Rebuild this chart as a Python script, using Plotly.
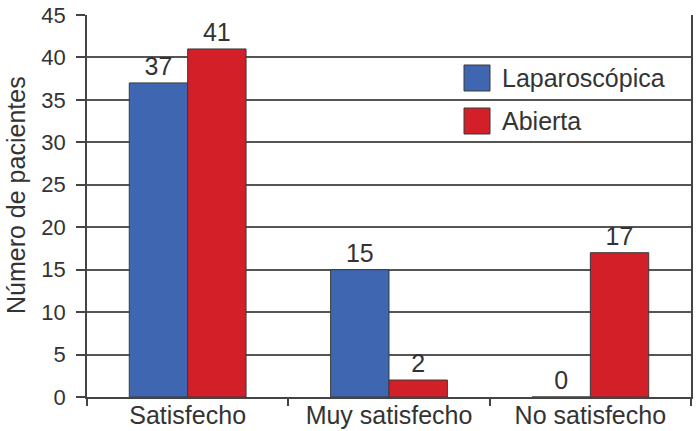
import plotly.graph_objects as go

categories = ["Satisfecho", "Muy satisfecho", "No satisfecho"]
series_names = ["Laparoscópica", "Abierta"]
lap_values = [37, 15, 0]
abi_values = [41, 2, 17]
y_ticks = [0, 5, 10, 15, 20, 25, 30, 35, 40, 45]
y_title = "Número de pacientes"

colors = ["#3f67b1", "#d21f28"]
font_family = "Liberation Sans, Arial, sans-serif"
text_color = "#333333"
line_color = "#444444"

fig = go.Figure()
for name, vals, col in zip(series_names, [lap_values, abi_values], colors):
    fig.add_trace(go.Bar(
        x=categories, y=vals, name=name,
        marker=dict(color=col, line=dict(color="#3a3a3a", width=1)),
        text=[str(v) for v in vals], textposition="outside",
        textfont=dict(size=25, color=text_color, family=font_family),
        cliponaxis=False, showlegend=False,
    ))

W, H = 699, 431
ml, mr, mt, mb = 87, 8, 15, 34
fig.update_layout(
    width=W, height=H,
    margin=dict(l=ml, r=mr, t=mt, b=mb),
    paper_bgcolor="white", plot_bgcolor="white",
    barmode="group", bargap=0.42, bargroupgap=0,
    uniformtext=dict(mode=False),
    font=dict(family=font_family, size=25, color=text_color),
)
fig.update_xaxes(
    automargin=False,
    showline=True, linecolor=line_color, linewidth=1.5,
    ticks="outside", tickson="boundaries", ticklen=7, tickcolor=line_color, tickwidth=1.5,
    ticklabelstandoff=-5,
    tickfont=dict(size=25, color=text_color), showgrid=False,
)
fig.update_yaxes(
    automargin=False,
    range=[0, 45], tickvals=y_ticks, showgrid=True, gridcolor="#555555", gridwidth=1.5,
    showline=True, linecolor=line_color, linewidth=1.5, mirror=True,
    ticks="outside", ticklen=9, tickcolor=line_color, tickwidth=1.5,
    ticklabelstandoff=6,
    tickfont=dict(size=22, color=text_color), zeroline=False,
)

pw = W - ml - mr
ph = H - mt - mb
def px(x):
    return (x - ml) / pw
def py(y):
    return (H - mb - y) / ph

# y-axis title
fig.add_annotation(
    text=y_title, textangle=-90, xref="paper", yref="paper",
    x=px(0), y=py(195), xanchor="left", yanchor="middle", showarrow=False,
    font=dict(size=25, color=text_color),
)

# manual legend
legend_rows = [78, 121]
for name, col, yc in zip(series_names, colors, legend_rows):
    fig.add_shape(type="rect", xref="paper", yref="paper",
                  x0=px(464), x1=px(490), y0=py(yc - 13), y1=py(yc + 13),
                  fillcolor=col, line=dict(color="#3a3a3a", width=1))
    fig.add_annotation(text=name, xref="paper", yref="paper",
                       x=px(500), y=py(yc), xanchor="left", yanchor="middle",
                       showarrow=False, font=dict(size=25, color=text_color))

fig.write_html("out.html")
